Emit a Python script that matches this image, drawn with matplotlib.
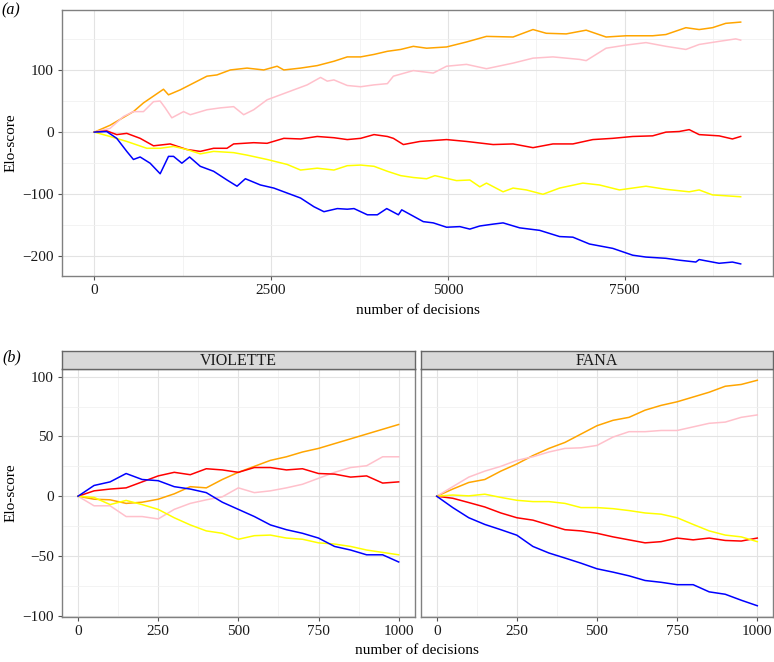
import matplotlib.pyplot as plt
import numpy as np
from matplotlib.ticker import MultipleLocator

plt.rcParams['font.family'] = 'serif'
plt.rcParams['font.serif'] = ['Liberation Serif']
plt.rcParams['font.size'] = 11

# ---- panel (a): all decisions ----
a_orange_x = [0, 222, 553, 695, 837, 978, 1049, 1215, 1404, 1593, 1734, 1923, 2160, 2396, 2585, 2680, 2916,
              3152, 3388, 3577, 3766, 3955, 4144, 4333, 4511, 4699, 4981, 5263, 5545, 5921, 6203, 6391,
              6673, 6955, 7237, 7519, 7895, 8083, 8365, 8553, 8741, 8929, 9140]
a_orange_y = [0, 11, 33, 47, 58, 69, 60, 68, 79, 90, 92, 100, 103, 100, 106, 100, 103,
              107, 114, 121, 121, 125, 130, 133, 138, 135, 137, 145, 154, 153, 165, 159,
              158, 164, 153, 155, 155, 157, 168, 165, 168, 175, 177]

a_pink_x = [0, 222, 411, 553, 695, 837, 931, 1002, 1096, 1262, 1357, 1593, 1782, 1970, 2112, 2254, 2443,
            2632, 2821, 3010, 3199, 3294, 3388, 3577, 3766, 3955, 4144, 4229, 4511, 4793, 4981, 5263,
            5545, 5921, 6203, 6485, 6861, 6955, 7237, 7519, 7801, 8083, 8365, 8553, 8835, 9070, 9140]
a_pink_y = [0, 6, 25, 33, 33, 49, 50, 39, 23, 33, 28, 36, 39, 41, 28, 36, 52,
            60, 68, 76, 88, 82, 84, 75, 73, 76, 78, 90, 99, 95, 106, 109,
            102, 111, 119, 121, 117, 115, 135, 140, 144, 138, 133, 141, 146, 150, 148]

a_red_x = [0, 175, 317, 459, 648, 837, 1073, 1309, 1498, 1687, 1876, 1970, 2254, 2443, 2680, 2916, 3152,
           3388, 3577, 3766, 3955, 4144, 4229, 4370, 4605, 4981, 5263, 5639, 5921, 6203, 6485, 6767,
           7049, 7331, 7613, 7895, 8083, 8271, 8412, 8553, 8835, 9023, 9140]
a_red_y = [0, 2, -4, -2, -10, -22, -19, -28, -31, -26, -26, -19, -17, -18, -10, -11, -7,
           -9, -12, -10, -4, -7, -10, -20, -15, -12, -15, -20, -19, -25, -19, -19,
           -12, -10, -7, -6, 0, 1, 4, -4, -6, -11, -7]

a_yellow_x = [0, 222, 459, 742, 931, 1120, 1309, 1498, 1687, 1970, 2160, 2443, 2727, 2916, 3152, 3388,
              3577, 3766, 3955, 4144, 4333, 4511, 4699, 4816, 5122, 5310, 5451, 5545, 5780, 5921, 6109,
              6344, 6579, 6908, 7143, 7425, 7801, 8083, 8412, 8553, 8741, 9140]
a_yellow_y = [0, -7, -15, -26, -26, -23, -28, -35, -31, -33, -37, -44, -52, -61, -58, -61,
              -54, -53, -55, -63, -70, -73, -75, -70, -78, -77, -88, -82, -96, -90, -93,
              -100, -90, -82, -85, -93, -87, -92, -96, -93, -101, -104]

a_blue_x = [0, 175, 317, 459, 553, 648, 789, 931, 1049, 1120, 1238, 1347, 1498, 1687, 1876, 2018, 2136,
            2348, 2538, 2727, 2916, 3105, 3247, 3436, 3577, 3672, 3861, 4002, 4135, 4300, 4347, 4652,
            4793, 4981, 5169, 5310, 5451, 5639, 5780, 6015, 6297, 6579, 6767, 7002, 7331, 7613, 7801,
            8083, 8271, 8506, 8553, 8835, 9023, 9140]
a_blue_y = [0, 1, -10, -31, -44, -40, -50, -67, -39, -39, -50, -40, -55, -63, -77, -87, -75,
            -85, -90, -98, -106, -120, -128, -123, -124, -123, -133, -133, -123, -133, -125, -144,
            -146, -153, -152, -156, -151, -148, -146, -154, -158, -168, -169, -180, -187, -198, -201,
            -203, -206, -209, -205, -211, -209, -212]

# ---- panel (b): first 1000 decisions per monkey ----
b_x = [0, 50, 100, 150, 200, 250, 300, 350, 400, 450, 500, 550, 600, 650, 700, 750, 800, 850, 900, 950, 1000]

vio_blue = [0, 9, 12, 19, 14, 13, 8, 6, 3, -5, -11, -17, -24, -28, -31, -35, -42, -45, -49, -49, -55]
vio_red = [0, 4.5, 6, 7, 12, 17, 20, 18, 23, 22, 20, 24, 24, 22, 23, 19, 18.5, 16, 17, 11, 12]
vio_orange = [0, -2.5, -3, -6, -5, -2.5, 2, 8, 7, 14, 20, 25, 30, 33, 37, 40, 44, 48, 52, 56, 60]
vio_pink = [0, -8, -8, -17, -17, -19, -11, -6, -3, -0.5, 7, 3, 4.5, 7, 10, 15, 20, 24, 25.5, 33, 33]
vio_yellow = [0, -1, -7, -3.5, -7, -11, -18, -24, -29, -31, -36, -33, -32.5, -35, -36, -39, -40, -42, -45, -47, -49]

fana_orange = [0, 6, 11.5, 14, 21, 27, 34, 40, 45, 52, 59, 63.5, 66, 72, 76, 79, 83, 87, 92, 93.5, 97]
fana_pink = [0, 8, 16, 21, 25, 30, 33, 37, 40, 40.5, 42.5, 49.5, 54, 54, 55, 55, 58, 61, 62, 66, 68]
fana_yellow = [0, 1, 0.3, 1.7, -1, -3.4, -4.5, -4.5, -6, -9.5, -9.5, -10.4, -12, -14, -15, -18, -23.6, -29, -32.5, -34, -38]
fana_red = [0, -1.7, -5.3, -9, -14, -18, -20, -24, -28, -29, -31, -34, -36.5, -39, -38, -35, -36.5, -35, -37, -37.5, -35]
fana_blue = [0, -9.5, -18, -23.6, -28, -32.6, -42, -47.5, -51.7, -56, -60.7, -63.5, -66.6, -70.5, -72, -74, -74, -80, -82, -87, -91.6]

colors = {'orange': '#FFA500', 'pink': '#FFC0CB', 'red': '#FF0000', 'yellow': '#FFFF00', 'blue': '#0000FF'}

W, H = 774, 662
fig = plt.figure(figsize=(W / 100, H / 100), dpi=100)


def px_axes(left, top, right, bottom):
    return fig.add_axes([left / W, 1 - bottom / H, (right - left) / W, (bottom - top) / H])


def expand(vals):
    lo, hi = min(vals), max(vals)
    pad = (hi - lo) * 0.05
    return lo - pad, hi + pad


def style_ax(ax, xmaj, ymaj):
    ax.set_facecolor('white')
    ax.xaxis.set_major_locator(MultipleLocator(xmaj))
    ax.xaxis.set_minor_locator(MultipleLocator(xmaj / 2))
    ax.yaxis.set_major_locator(MultipleLocator(ymaj))
    ax.yaxis.set_minor_locator(MultipleLocator(ymaj / 2))
    ax.grid(True, which='major', color='#E3E3E3', linewidth=0.8)
    ax.grid(True, which='minor', color='#F1F1F1', linewidth=0.6)
    ax.set_axisbelow(True)
    for s in ax.spines.values():
        s.set_color('#808080')
        s.set_linewidth(1.0)
    ax.tick_params(which='major', length=3, color='#555555', labelsize=11, labelcolor='#1A1A1A', pad=3)
    ax.tick_params(which='minor', length=0)


# panel (a)
ax1 = px_axes(62, 10, 773, 276)
series_a = [(a_orange_x, a_orange_y, 'orange'), (a_pink_x, a_pink_y, 'pink'), (a_red_x, a_red_y, 'red'),
            (a_yellow_x, a_yellow_y, 'yellow'), (a_blue_x, a_blue_y, 'blue')]
for xs, ys, c in series_a:
    ax1.plot(xs, ys, color=colors[c], linewidth=1.1)
style_ax(ax1, 2500, 100)
ax1.set_xlim(expand([0, 9140]))
ax1.set_ylim(expand(a_blue_y + a_orange_y))
ax1.set_ylabel('Elo-score', fontsize=11, labelpad=3)
ax1.set_xlabel('number of decisions', fontsize=11, labelpad=5)
fig.text(1 / W, 1 - 10 / H, '(a)', fontsize=11.5, style='italic', va='center', ha='left')

# panel (b)
ax2 = px_axes(62, 369, 414.7, 617)
ax3 = px_axes(420.7, 369, 773.3, 617)
facets = [(ax2, 'VIOLETTE', [vio_orange, vio_pink, vio_red, vio_yellow, vio_blue]),
          (ax3, 'FANA', [fana_orange, fana_pink, fana_red, fana_yellow, fana_blue])]
allb = vio_orange + vio_blue + fana_orange + fana_blue
for ax, name, sers in facets:
    for ys, c in zip(sers, ['orange', 'pink', 'red', 'yellow', 'blue']):
        ax.plot(b_x, ys, color=colors[c], linewidth=1.1)
    style_ax(ax, 250, 50)
    ax.set_xlim(expand(b_x))
    ax.set_ylim(expand(allb))
ax3.tick_params(axis='y', which='both', left=False, labelleft=False)
ax2.set_ylabel('Elo-score', fontsize=11, labelpad=3)

# strips
for left, right, name in [(62, 414.7, 'VIOLETTE'), (420.7, 773.3, 'FANA')]:
    sax = px_axes(left, 350.7, right, 369)
    sax.set_facecolor('#D9D9D9')
    sax.set_xticks([])
    sax.set_yticks([])
    for s in sax.spines.values():
        s.set_color('#666666')
        s.set_linewidth(1.0)
    sax.text(0.5, 0.45, name, transform=sax.transAxes, ha='center', va='center', fontsize=11.5, color='#1A1A1A')

fig.text(417 / W, 1 - 650 / H, 'number of decisions', fontsize=11, ha='center', va='center')
fig.text(2 / W, 1 - 357 / H, '(b)', fontsize=11.5, style='italic', va='center', ha='left')

plt.savefig('out.png', dpi=100)
